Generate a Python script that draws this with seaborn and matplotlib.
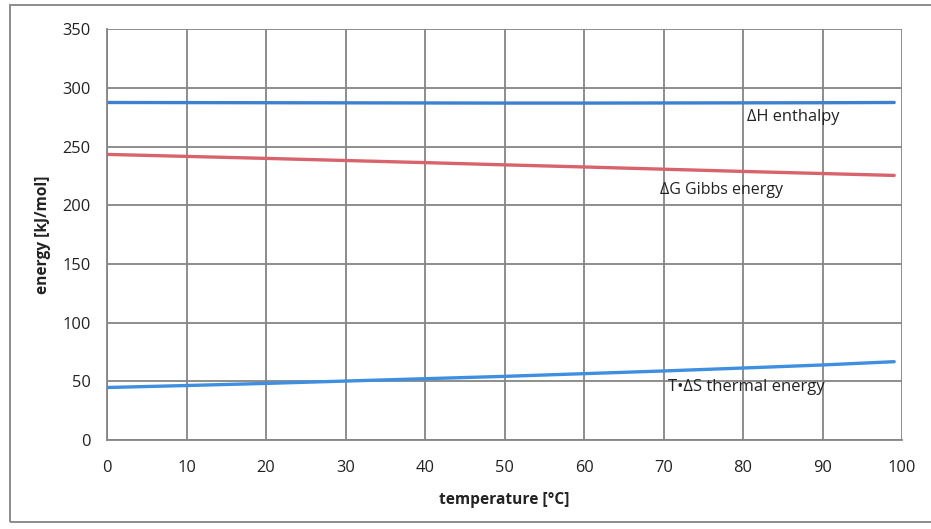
import matplotlib
matplotlib.use("Agg")
import matplotlib.pyplot as plt
import seaborn as sns
import pandas as pd
from matplotlib.patches import Rectangle

# Temperature samples [°C]
temperature = [0, 10, 20, 30, 40, 50, 60, 70, 80, 90, 99]
# Energy terms for water splitting [kJ/mol]
enthalpy = [287.5, 287.4, 287.3, 287.2, 287.1, 287.0, 287.0, 287.1, 287.2, 287.3, 287.5]
gibbs = [243.3, 241.6, 239.9, 238.1, 236.3, 234.4, 232.6, 230.7, 228.8, 227.0, 225.4]
thermal = [44.8, 46.5, 48.3, 50.3, 52.3, 54.3, 56.6, 58.9, 61.4, 64.0, 66.8]

x_ticks = [0, 10, 20, 30, 40, 50, 60, 70, 80, 90, 100]
y_ticks = [0, 50, 100, 150, 200, 250, 300, 350]

series_labels = ["ΔH enthalpy", "ΔG Gibbs energy", "T•ΔS thermal energy"]

df = pd.DataFrame({
    "temperature": temperature * 3,
    "energy": enthalpy + gibbs + thermal,
    "series": [series_labels[0]] * len(temperature)
    + [series_labels[1]] * len(temperature)
    + [series_labels[2]] * len(temperature),
})

sns.set_theme(style="white")
plt.rcParams["font.family"] = ["Open Sans", "DejaVu Sans"]

fig = plt.figure(figsize=(9.31, 5.29), dpi=100)
fig.patch.set_facecolor("white")
# outer chart frame (runs past the right edge of the figure)
fig.add_artist(Rectangle((0.0107, 0.013), 1.05, 0.978, transform=fig.transFigure,
                         fill=False, edgecolor="#8c8c8c", linewidth=1.4))

ax = fig.add_axes([0.115, 0.168, 0.854, 0.777])
palette = {series_labels[0]: "#3d7fd0", series_labels[1]: "#d9636c",
           series_labels[2]: "#3e8fe0"}
sns.lineplot(data=df, x="temperature", y="energy", hue="series", palette=palette,
             linewidth=2.4, legend=False, ax=ax)

ax.set_xlim(0, 100)
ax.set_ylim(0, 350)
ax.set_xticks(x_ticks)
ax.set_yticks(y_ticks)
ax.grid(True, color="#858585", linewidth=1.3)
ax.set_axisbelow(True)
for side in ["top", "right"]:
    ax.spines[side].set_visible(False)
for side in ["left", "bottom"]:
    ax.spines[side].set_color("#858585")
    ax.spines[side].set_linewidth(1.3)
ax.tick_params(axis="both", which="both", length=5, width=1.2, color="#858585",
               labelsize=11.8, labelcolor="#222222", direction="out")
ax.tick_params(axis="x", pad=9)
ax.tick_params(axis="y", pad=7)

ax.set_xlabel("temperature [°C]", fontsize=11.2, fontweight="bold", color="#222222",
              labelpad=12)
ax.set_ylabel("energy [kJ/mol]", fontsize=11.2, fontweight="bold", color="#222222",
              labelpad=8)

# series annotations next to the curves
ax.text(80.5, enthalpy[8] - 12, series_labels[0], fontsize=11.8, color="#222222",
        ha="left", va="center")
ax.text(69.5, gibbs[7] - 18, series_labels[1], fontsize=11.5, color="#222222",
        ha="left", va="center")
ax.text(70.5, thermal[7] - 13.5, series_labels[2], fontsize=12, color="#222222",
        ha="left", va="center")

fig.savefig("out.png", dpi=100, facecolor="white")
